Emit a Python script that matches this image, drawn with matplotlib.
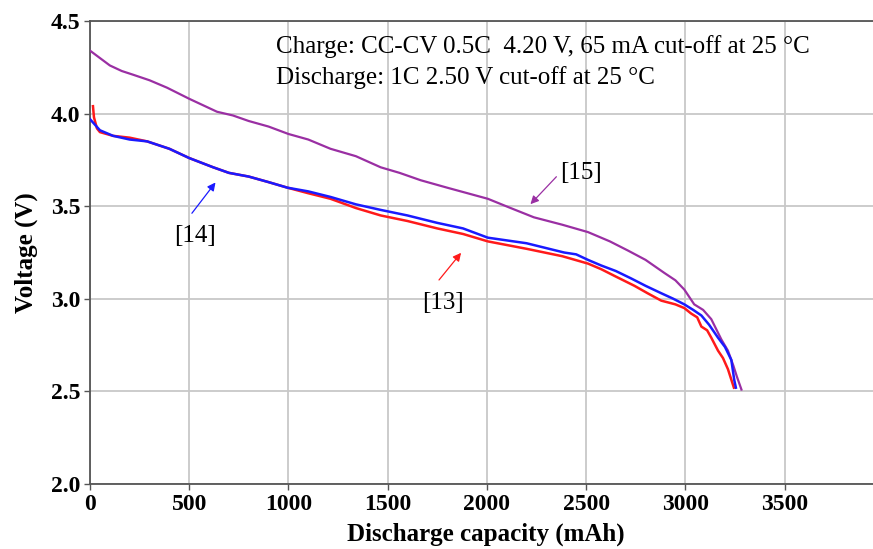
import matplotlib
matplotlib.use("Agg")
import matplotlib.pyplot as plt

# Data
cap_15 = [0, 25, 50, 100, 160, 217, 300, 388, 500, 640, 720, 800, 900, 1000, 1100, 1212, 1340, 1465, 1560, 1667, 1800, 2005, 2120, 2237, 2380, 2510, 2620, 2712, 2800, 2894, 2950, 2995, 3045, 3090, 3131, 3182, 3215, 3242, 3260, 3283]
v_15 = [4.34, 4.32, 4.30, 4.26, 4.23, 4.21, 4.18, 4.14, 4.08, 4.01, 3.99, 3.96, 3.93, 3.89, 3.86, 3.81, 3.77, 3.71, 3.68, 3.64, 3.60, 3.54, 3.49, 3.44, 3.40, 3.36, 3.31, 3.26, 3.21, 3.14, 3.10, 3.05, 2.97, 2.94, 2.89, 2.78, 2.72, 2.64, 2.58, 2.51]

cap_14 = [0, 25, 50, 116, 200, 288, 400, 500, 621, 700, 800, 900, 995, 1100, 1212, 1340, 1465, 1600, 1750, 1880, 2005, 2200, 2389, 2450, 2510, 2576, 2650, 2727, 2800, 2879, 2940, 2995, 3040, 3081, 3120, 3165, 3200, 3232, 3247, 3255]
v_14 = [3.97, 3.94, 3.91, 3.88, 3.86, 3.85, 3.81, 3.76, 3.71, 3.68, 3.66, 3.63, 3.60, 3.58, 3.55, 3.51, 3.48, 3.45, 3.41, 3.38, 3.33, 3.30, 3.25, 3.24, 3.21, 3.18, 3.15, 3.11, 3.07, 3.03, 3.00, 2.97, 2.94, 2.91, 2.86, 2.79, 2.74, 2.67, 2.56, 2.52]

cap_13 = [15, 20, 35, 50, 116, 200, 288, 400, 500, 621, 700, 800, 900, 995, 1100, 1212, 1340, 1465, 1600, 1750, 1880, 2005, 2200, 2380, 2510, 2576, 2650, 2744, 2810, 2879, 2950, 2995, 3030, 3060, 3081, 3110, 3131, 3165, 3190, 3215, 3245]
v_13 = [4.04, 3.98, 3.92, 3.90, 3.88, 3.87, 3.85, 3.81, 3.76, 3.71, 3.68, 3.66, 3.63, 3.60, 3.57, 3.54, 3.49, 3.45, 3.42, 3.38, 3.35, 3.31, 3.27, 3.23, 3.19, 3.16, 3.12, 3.07, 3.03, 2.99, 2.97, 2.95, 2.92, 2.90, 2.85, 2.83, 2.79, 2.72, 2.68, 2.62, 2.52]

x_ticks = [0, 500, 1000, 1500, 2000, 2500, 3000, 3500]
y_ticks = [2.0, 2.5, 3.0, 3.5, 4.0, 4.5]

labels = ["[13]", "[14]", "[15]"]
label_xy = [(1778, 2.98), (530, 3.34), (2475, 3.68)]
arrow_tip = [(1879, 3.26), (641, 3.64), (2210, 3.50)]
arrow_tail = [(1750, 3.09), (505, 3.45), (2360, 3.67)]

serif = ["Liberation Serif", "DejaVu Serif"]

fig = plt.figure(figsize=(8.73, 5.49), dpi=100)
ax = fig.add_axes([90/873, (549-484)/549, 1 - 90/873 + 0.01, (484-21)/549])

ax.plot(cap_15, v_15, color="#9a2fa3", lw=1.6, zorder=3)
ax.plot(cap_13, v_13, color="#ff1a1a", lw=1.8, zorder=3)
ax.plot(cap_14, v_14, color="#1a1aff", lw=1.8, zorder=4)

ax.set_xlim(0, 3990)
ax.set_ylim(2.0, 4.5)
ax.set_xticks(x_ticks)
ax.set_yticks(y_ticks)
ax.set_yticklabels([f"{v:.1f}" for v in y_ticks])
ax.grid(True, color="#c8c8c8", lw=1.3)
ax.set_axisbelow(True)

for s in ["left", "bottom", "top"]:
    ax.spines[s].set_color("#555555")
    ax.spines[s].set_linewidth(1.3)
ax.spines["right"].set_visible(False)
ax.tick_params(direction="out", length=4, width=1, color="#555555", pad=3)
for lab in ax.get_xticklabels() + ax.get_yticklabels():
    lab.set_fontfamily(serif)
    lab.set_fontweight("bold")
    lab.set_fontsize(17)

ax.set_xlabel("Discharge capacity (mAh)", fontfamily=serif, fontweight="bold", fontsize=18, labelpad=6)
ax.set_ylabel("Voltage (V)", fontfamily=serif, fontweight="bold", fontsize=18, labelpad=9)

colors = ["#ff1a1a", "#1a1aff", "#9a2fa3"]
for lab, (tx, ty), tip, tail, c in zip(labels, label_xy, arrow_tip, arrow_tail, colors):
    ax.text(tx, ty, lab, fontfamily=serif, fontsize=18, ha="center", va="center")
    ax.annotate("", xy=tip, xytext=tail,
                arrowprops=dict(arrowstyle="-|>", color=c, lw=0.9, mutation_scale=12))

ax.text(0.235, 0.944, "Charge: CC-CV 0.5C  4.20 V, 65 mA cut-off at 25 \u00b0C",
        transform=ax.transAxes, fontfamily=serif, fontsize=18, ha="left", va="center")
ax.text(0.235, 0.877, "Discharge: 1C 2.50 V cut-off at 25 \u00b0C",
        transform=ax.transAxes, fontfamily=serif, fontsize=18, ha="left", va="center")

fig.savefig("out.png", dpi=100)
